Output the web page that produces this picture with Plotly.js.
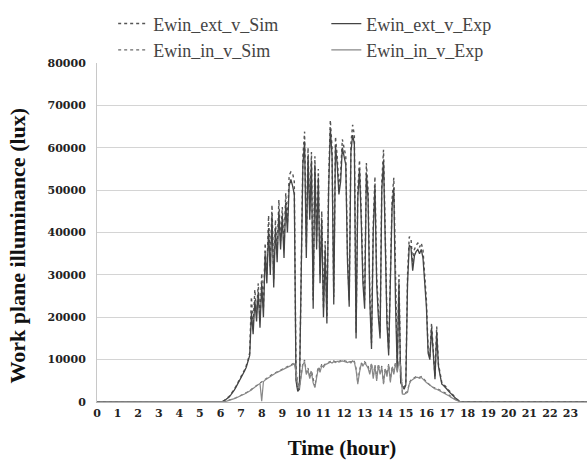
<!DOCTYPE html>
<html>
<head>
<meta charset="utf-8">
<script src="https://cdn.plot.ly/plotly-3.0.1.min.js"></script>
<style>html,body{margin:0;padding:0;background:#fff;}#chart{width:587px;height:463px;}</style>
</head>
<body>
<div id="chart"></div>
<script>
// time of day, minutes
const timeMin = [0,
360,365,370,375,380,385,390,395,400,405,410,415,
420,425,430,435,440,445,450,455,460,465,470,475,
480,485,490,495,500,505,510,515,520,525,530,535,
540,545,550,555,560,565,570,575,580,585,590,595,
600,605,610,615,620,625,630,635,640,645,650,655,
660,665,670,675,680,685,690,695,700,705,710,715,
720,725,730,735,740,745,750,755,760,765,770,775,
780,785,790,795,800,805,810,815,820,825,830,835,
840,845,850,855,860,865,870,875,880,885,890,895,
900,905,910,915,920,925,930,935,940,945,950,955,
960,965,970,975,980,985,990,995,1000,1005,1010,1015,
1020,1025,1030,1035,1040,1045,1050,1055,1060,1065,
1440];

const ewinExtSim = [0,
0,100,300,600,900,1300,1800,2300,3000,3700,4500,5200,
5800,6800,7600,8600,9800,11600,24800,18000,26500,21000,28000,19000,
30400,22000,37500,30000,44000,32000,46500,29000,43000,35000,47700,38000,
46000,36000,49300,42000,53500,54300,54000,52000,6000,2800,3500,30000,
58000,63800,36600,60000,45000,59000,24000,58000,38000,55000,30000,45000,
22000,38000,20000,52000,66500,60000,24800,62600,58000,50800,54000,62000,
60200,58000,35000,24000,61000,65400,63000,16300,50000,57100,45000,30000,
24000,56400,50000,26000,13900,42000,53200,30000,22000,16300,52000,59500,
40000,20000,12300,35000,48000,52900,25000,8300,30000,5000,4200,3500,
4500,30000,39000,38700,32800,36000,37000,37500,36500,37500,35900,29500,
24000,12300,10600,18600,12000,5900,17800,9000,6800,4500,4200,3600,
3300,2800,2300,1800,1400,1000,600,300,0,0,
0];

const ewinExtExp = [0,
0,100,250,500,800,1200,1700,2200,2800,3500,4200,5000,
5600,6500,7300,8200,9400,11000,21000,16000,24000,19000,26000,17500,
28000,20000,35000,28000,41000,30000,44000,27000,41000,33000,45000,36000,
44000,34000,47000,40000,51000,52500,51000,49000,5000,2500,3000,27000,
56000,61500,34000,58000,43000,57000,22000,56000,36000,53000,28000,43000,
20000,36000,18500,50000,64500,58000,23000,60500,56000,49000,52000,60000,
58000,56000,33000,22500,59000,63000,61000,15000,48000,55000,43000,28000,
22000,54000,48000,24000,12500,40000,51000,28000,20000,15000,50000,57000,
38000,18500,11000,33000,46000,50500,23000,7500,28000,4500,3800,3000,
4000,28000,37000,36500,31000,34500,35500,36000,35000,36000,34000,28000,
22500,11500,10000,17500,11000,5400,16500,8500,6200,4200,3900,3300,
3000,2500,2100,1600,1200,900,500,250,0,0,
0];

const ewinInSim = [0,
0,50,100,200,300,400,550,700,850,1000,1200,1400,
1600,1800,2000,2200,2400,2600,3000,3300,3700,4000,4300,4500,
4700,5000,5300,5600,5900,6200,6500,6700,6900,7100,7400,7600,
7800,8000,8200,8400,8600,8800,9000,9200,8000,4500,3600,6000,
9200,9900,7000,8000,6000,7500,5000,3600,6500,8300,7500,9000,
8500,9000,9200,9500,9600,9400,9700,9500,9800,9600,9700,9900,
9800,9600,9500,9700,9400,9900,9600,8000,4500,7500,9200,8800,
9500,9000,8500,7000,9200,6000,8800,5500,9000,7000,8500,4500,
8000,6500,9000,5000,8500,7000,9500,7500,9900,9000,2100,2000,
2300,2500,4500,5200,5500,5800,6000,6000,5800,6000,5500,5200,
4800,4500,4000,3600,3500,3300,3200,3000,2800,2600,2400,2200,
2000,1700,1400,1100,800,600,400,200,0,0,
0];

const ewinInExp = [0,
0,30,80,150,250,350,500,650,800,950,1100,1300,
1500,1700,1900,2100,2300,2500,2800,3200,3500,3800,4200,4400,
200,4800,5200,5500,5800,6000,6300,6500,6800,7000,7200,7500,
7700,7900,8100,8300,8500,8600,8800,9000,7000,4000,3200,5500,
8800,9500,6500,7500,5500,7000,4500,3400,6000,8000,7000,8600,
8200,8800,9000,9300,9400,9200,9500,9300,9600,9400,9500,9700,
9600,9400,9300,9500,9200,9700,9400,7500,4200,7000,9000,8500,
9200,8700,8000,6500,9000,5500,8500,5000,8700,6500,8200,4200,
7800,6000,8700,4600,8200,6500,9200,7000,9600,8600,1900,1800,
2100,2300,4200,5000,5300,5600,5800,5800,5600,5800,5300,5000,
4600,4300,3800,3500,3300,3100,3000,2800,2600,2400,2200,2000,
1800,1500,1200,900,700,500,300,150,0,0,
0];

const hourTicks = [0,1,2,3,4,5,6,7,8,9,10,11,12,13,14,15,16,17,18,19,20,21,22,23];
const hourLabels = ["0","1","2","3","4","5","6","7","8","9","10","11","12","13","14","15","16","17","18","19","20","21","22","23"];
const yTicks = [0,10000,20000,30000,40000,50000,60000,70000,80000];
const yLabels = ["0","10000","20000","30000","40000","50000","60000","70000","80000"];

const xHours = timeMin.map(m => m / 60);
const serif = "Liberation Serif, Times New Roman, serif";
const tickFont = {family: "DejaVu Serif", size: 11, color: "#222", weight: "bold"};

const traces = [
  {x: xHours, y: ewinExtSim, name: "Ewin_ext_v_Sim", mode: "lines", legend: "legend",
   line: {color: "#555555", width: 1.4, dash: "dot"}},
  {x: xHours, y: ewinExtExp, name: "Ewin_ext_v_Exp", mode: "lines", legend: "legend2",
   line: {color: "#444444", width: 1.3}},
  {x: xHours, y: ewinInSim, name: "Ewin_in_v_Sim", mode: "lines", legend: "legend",
   line: {color: "#6a6a6a", width: 1.2, dash: "dot"}},
  {x: xHours, y: ewinInExp, name: "Ewin_in_v_Exp", mode: "lines", legend: "legend2",
   line: {color: "#888888", width: 1.2}}
];

const legendFont = {family: serif, size: 18, color: "#444"};
const layout = {
  width: 587, height: 463,
  margin: {l: 97, r: 0, t: 63, b: 61},
  paper_bgcolor: "#fff", plot_bgcolor: "#fff",
  showlegend: true,
  legend: {x: 0.033, y: 1.17, xanchor: "left", yanchor: "top", orientation: "v",
    font: legendFont, itemwidth: 30, tracegroupgap: 0, bgcolor: "rgba(0,0,0,0)"},
  legend2: {x: 0.468, y: 1.17, xanchor: "left", yanchor: "top", orientation: "v",
    font: legendFont, itemwidth: 30, tracegroupgap: 0, bgcolor: "rgba(0,0,0,0)"},
  xaxis: {
    range: [0, 23.8], tickvals: hourTicks, ticktext: hourLabels,
    showgrid: false, zeroline: false, showline: true, linecolor: "#b5b5b5", linewidth: 1,
    ticks: "", tickfont: tickFont, ticklabelstandoff: 1,
    title: {text: "Time (hour)", font: {family: serif, size: 21, color: "#111", weight: "bold"}, standoff: 21}
  },
  yaxis: {
    range: [0, 80000], tickvals: yTicks, ticktext: yLabels,
    showgrid: true, gridcolor: "#d4d4d4", gridwidth: 1, zeroline: false,
    showline: true, linecolor: "#c8c8c8", linewidth: 1,
    ticks: "", tickfont: tickFont, ticklabelstandoff: 8
  },
  annotations: [{
    text: "Work plane illuminance (lux)", textangle: -90,
    xref: "paper", yref: "paper", x: -0.163, y: 0.462,
    xanchor: "center", yanchor: "middle", showarrow: false,
    font: {family: serif, size: 22, color: "#111", weight: "bold"}
  }]
};

Plotly.newPlot("chart", traces, layout, {displayModeBar: false, staticPlot: true});
</script>
</body>
</html>
